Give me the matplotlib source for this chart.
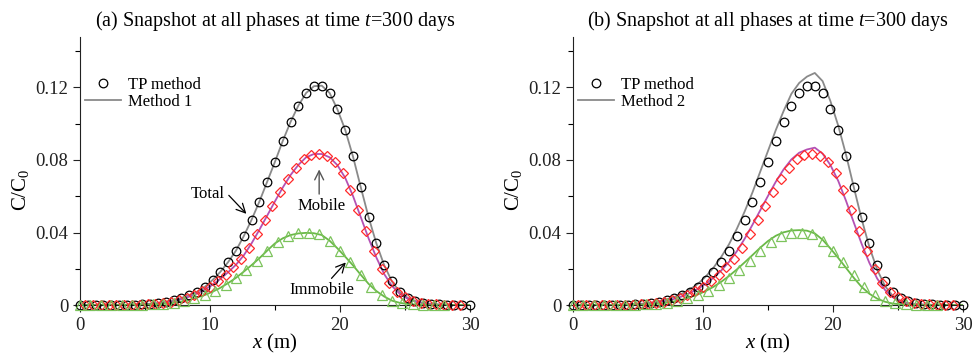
import numpy as np
import matplotlib
matplotlib.use("Agg")
from matplotlib import pyplot as plt
from matplotlib.lines import Line2D
from matplotlib.ticker import MultipleLocator, FuncFormatter

plt.rcParams['font.family'] = ['Liberation Serif', 'DejaVu Serif']
plt.rcParams['mathtext.fontset'] = 'custom'
plt.rcParams['mathtext.rm'] = 'Liberation Serif'
plt.rcParams['mathtext.it'] = 'Liberation Serif:italic'

# %% TP method (markers)
x_total = np.arange(0, 30.01, 0.6)
tp_total = [0, 0, 0, 0, 0, 0, 0.0001, 0.0002, 0.0004, 0.0007, 0.0011, 0.0018, 0.0027,
            0.0039, 0.0054, 0.0073, 0.0100, 0.0138, 0.0183, 0.0237, 0.0300, 0.0380,
            0.0470, 0.0570, 0.0680, 0.0790, 0.0905, 0.1010, 0.1100, 0.1170, 0.1207,
            0.1210, 0.1170, 0.1080, 0.0967, 0.0820, 0.0650, 0.0485, 0.0340, 0.0220,
            0.0130, 0.0072, 0.0040, 0.0022, 0.0012, 0.0006, 0.0003, 0.0001, 0, 0, 0]

x_mobile = np.arange(0.4, 29.21, 0.6)
tp_mobile = [0, 0, 0, 0, 0, 0, 0.0001, 0.0002, 0.0004, 0.0007, 0.0012, 0.0019, 0.0028,
             0.0040, 0.0057, 0.0077, 0.0102, 0.0133, 0.0168, 0.0208, 0.0256, 0.0315,
             0.0390, 0.0467, 0.0546, 0.0624, 0.0696, 0.0757, 0.0805, 0.0830, 0.0834,
             0.0823, 0.0790, 0.0728, 0.0637, 0.0524, 0.0407, 0.0296, 0.0198, 0.0124,
             0.0074, 0.0043, 0.0024, 0.0012, 0.0006, 0.0003, 0.0001, 0, 0]

x_immobile = np.arange(0, 28.01, 0.8)
tp_immobile = [0, 0, 0, 0, 0, 0.0001, 0.0002, 0.0004, 0.0007, 0.0012, 0.0020, 0.0037,
               0.0055, 0.0080, 0.0112, 0.0150, 0.0195, 0.0245, 0.0300, 0.0350, 0.0382,
               0.0395, 0.0398, 0.0390, 0.0355, 0.0298, 0.0236, 0.0167, 0.0102, 0.0056,
               0.0024, 0.0010, 0.0004, 0.0002, 0.0001, 0]

# %% Method 1 / Method 2 (lines)
x_line = np.arange(0, 30.01, 0.6)
m1_total = tp_total
m1_mobile = [0, 0, 0, 0, 0, 0, 0.0001, 0.0001, 0.0003, 0.0005, 0.0009, 0.0014, 0.0022,
             0.0032, 0.0046, 0.0063, 0.0085, 0.0112, 0.0144, 0.0181, 0.0222, 0.0274,
             0.0340, 0.0415, 0.0493, 0.0572, 0.0648, 0.0717, 0.0773, 0.0815, 0.0833,
             0.0833, 0.0815, 0.0772, 0.0702, 0.0602, 0.0485, 0.0368, 0.0262, 0.0171,
             0.0105, 0.0062, 0.0035, 0.0019, 0.0010, 0.0005, 0.0002, 0.0001, 0, 0, 0]
m1_immobile = [0, 0, 0, 0, 0, 0, 0.0001, 0.0001, 0.0002, 0.0003, 0.0005, 0.0008, 0.0012,
               0.0018, 0.0028, 0.0041, 0.0055, 0.0073, 0.0095, 0.0121, 0.0150, 0.0184,
               0.0220, 0.0258, 0.0300, 0.0340, 0.0368, 0.0386, 0.0395, 0.0398, 0.0396,
               0.0386, 0.0355, 0.0313, 0.0267, 0.0219, 0.0167, 0.0117, 0.0077, 0.0047,
               0.0024, 0.0012, 0.0006, 0.0003, 0.0002, 0.0001, 0, 0, 0, 0, 0]

m2_total = [0, 0, 0, 0, 0, 0, 0.0001, 0.0002, 0.0004, 0.0008, 0.0013, 0.0021, 0.0031,
            0.0045, 0.0063, 0.0086, 0.0116, 0.0156, 0.0205, 0.0265, 0.0335, 0.0420,
            0.0515, 0.0620, 0.0735, 0.0850, 0.0965, 0.1070, 0.1165, 0.1225, 0.1260,
            0.1280, 0.1235, 0.1125, 0.0990, 0.0830, 0.0650, 0.0475, 0.0320, 0.0195,
            0.0105, 0.0050, 0.0023, 0.0010, 0.0004, 0.0002, 0.0001, 0, 0, 0, 0]
m2_mobile = [0, 0, 0, 0, 0, 0, 0.0001, 0.0001, 0.0003, 0.0005, 0.0009, 0.0015, 0.0023,
             0.0034, 0.0048, 0.0066, 0.0089, 0.0117, 0.0150, 0.0190, 0.0238, 0.0296,
             0.0365, 0.0442, 0.0522, 0.0602, 0.0680, 0.0748, 0.0803, 0.0840, 0.0858,
             0.0868, 0.0835, 0.0772, 0.0685, 0.0575, 0.0455, 0.0338, 0.0232, 0.0146,
             0.0083, 0.0043, 0.0020, 0.0009, 0.0004, 0.0002, 0.0001, 0, 0, 0, 0]
m2_immobile = [0, 0, 0, 0, 0, 0, 0.0001, 0.0001, 0.0002, 0.0003, 0.0005, 0.0008, 0.0013,
               0.0020, 0.0030, 0.0043, 0.0058, 0.0077, 0.0100, 0.0128, 0.0160, 0.0196,
               0.0235, 0.0275, 0.0316, 0.0353, 0.0382, 0.0401, 0.0411, 0.0413, 0.0410,
               0.0395, 0.0360, 0.0312, 0.0260, 0.0205, 0.0150, 0.0100, 0.0062, 0.0035,
               0.0018, 0.0008, 0.0004, 0.0002, 0.0001, 0, 0, 0, 0, 0, 0]

titles = ['(a) Snapshot at all phases at time $t$=300 days',
          '(b) Snapshot at all phases at time $t$=300 days']
method_labels = ['Method 1', 'Method 2']

c_total_line = '#8a8a8a'
c_mobile_line = '#b451b4'
c_immobile_line = '#6ab947'
c_diamond = '#ff2a2a'
c_triangle = '#7cc35c'

# %%
fig = plt.figure(figsize=(9.74, 3.55), dpi=100)
axes = [fig.add_axes([0.0821, 0.1408, 0.4004, 0.7558]),
        fig.add_axes([0.5883, 0.1408, 0.4004, 0.7558])]

lines_sets = [(m1_total, m1_mobile, m1_immobile), (m2_total, m2_mobile, m2_immobile)]

for i, ax in enumerate(axes):
    lt, lm, li = lines_sets[i]
    ax.plot(x_line, lt, color=c_total_line, lw=1.3, zorder=2)
    ax.plot(x_line, lm, color=c_mobile_line, lw=1.3, zorder=2)
    ax.plot(x_line, li, color=c_immobile_line, lw=1.3, zorder=2)

    ax.plot(x_total, tp_total, 'o', ms=6.2, mfc='none', mec='black', mew=0.9,
            clip_on=False, zorder=3)
    ax.plot(x_mobile, tp_mobile, 'D', ms=4.6, mfc='none', mec=c_diamond, mew=0.9,
            clip_on=False, zorder=3)
    ax.plot(x_immobile, tp_immobile, '^', ms=6.5, mfc='none', mec=c_triangle, mew=0.9,
            clip_on=False, zorder=3)

    ax.set_xlim(0, 30)
    ax.set_ylim(0, 0.148)
    ax.xaxis.set_major_locator(MultipleLocator(10))
    ax.xaxis.set_minor_locator(MultipleLocator(5))
    ax.yaxis.set_major_locator(MultipleLocator(0.04))
    ax.yaxis.set_minor_locator(MultipleLocator(0.02))
    ax.yaxis.set_major_formatter(FuncFormatter(lambda v, p: '%g' % round(v, 4)))
    ax.tick_params(which='major', direction='out', length=5, width=0.8, labelsize=13.5,
                   colors='#222222')
    ax.tick_params(which='minor', direction='out', length=3.5, width=0.8)
    for s in ['top', 'right']:
        ax.spines[s].set_visible(False)
    for s in ['left', 'bottom']:
        ax.spines[s].set_linewidth(0.8)
        ax.spines[s].set_color('#222222')

    ax.set_xlabel('$x$ (m)', fontsize=15, labelpad=-1)
    ax.set_ylabel('C/C$_0$', fontsize=15)
    ax.yaxis.set_label_coords(-0.125, 0.43)
    ax.set_title(titles[i], fontsize=14.5, pad=8)

    handles = [Line2D([], [], ls='none', marker='o', ms=6.2, mfc='none', mec='black', mew=0.9),
               Line2D([], [], color=c_total_line, lw=1.3)]
    ax.legend(handles, ['TP method', method_labels[i]], loc='upper left',
              bbox_to_anchor=(0.012, 0.85), frameon=False, fontsize=12,
              handlelength=2.2, handletextpad=0.4, labelspacing=0.05,
              borderpad=0, borderaxespad=0)

# annotations on panel (a)
ax = axes[0]
arrow_black = dict(arrowstyle='->', color='black', lw=0.9, shrinkA=0, shrinkB=0,
                   mutation_scale=16)
arrow_gray = dict(arrowstyle='->', color='#555555', lw=1.0, shrinkA=0, shrinkB=0,
                  mutation_scale=16)
ax.text(11.1, 0.0615, 'Total', fontsize=12, ha='right', va='center')
ax.annotate('', xy=(12.8, 0.0503), xytext=(11.45, 0.0605), arrowprops=arrow_black)
ax.text(18.6, 0.0547, 'Mobile', fontsize=12, ha='center', va='center')
ax.annotate('', xy=(18.4, 0.0748), xytext=(18.4, 0.0612), arrowprops=arrow_gray)
ax.text(18.6, 0.0083, 'Immobile', fontsize=12, ha='center', va='center')
ax.annotate('', xy=(20.45, 0.0235), xytext=(19.35, 0.0147), arrowprops=arrow_black)

fig.savefig('out.png', dpi=100)
